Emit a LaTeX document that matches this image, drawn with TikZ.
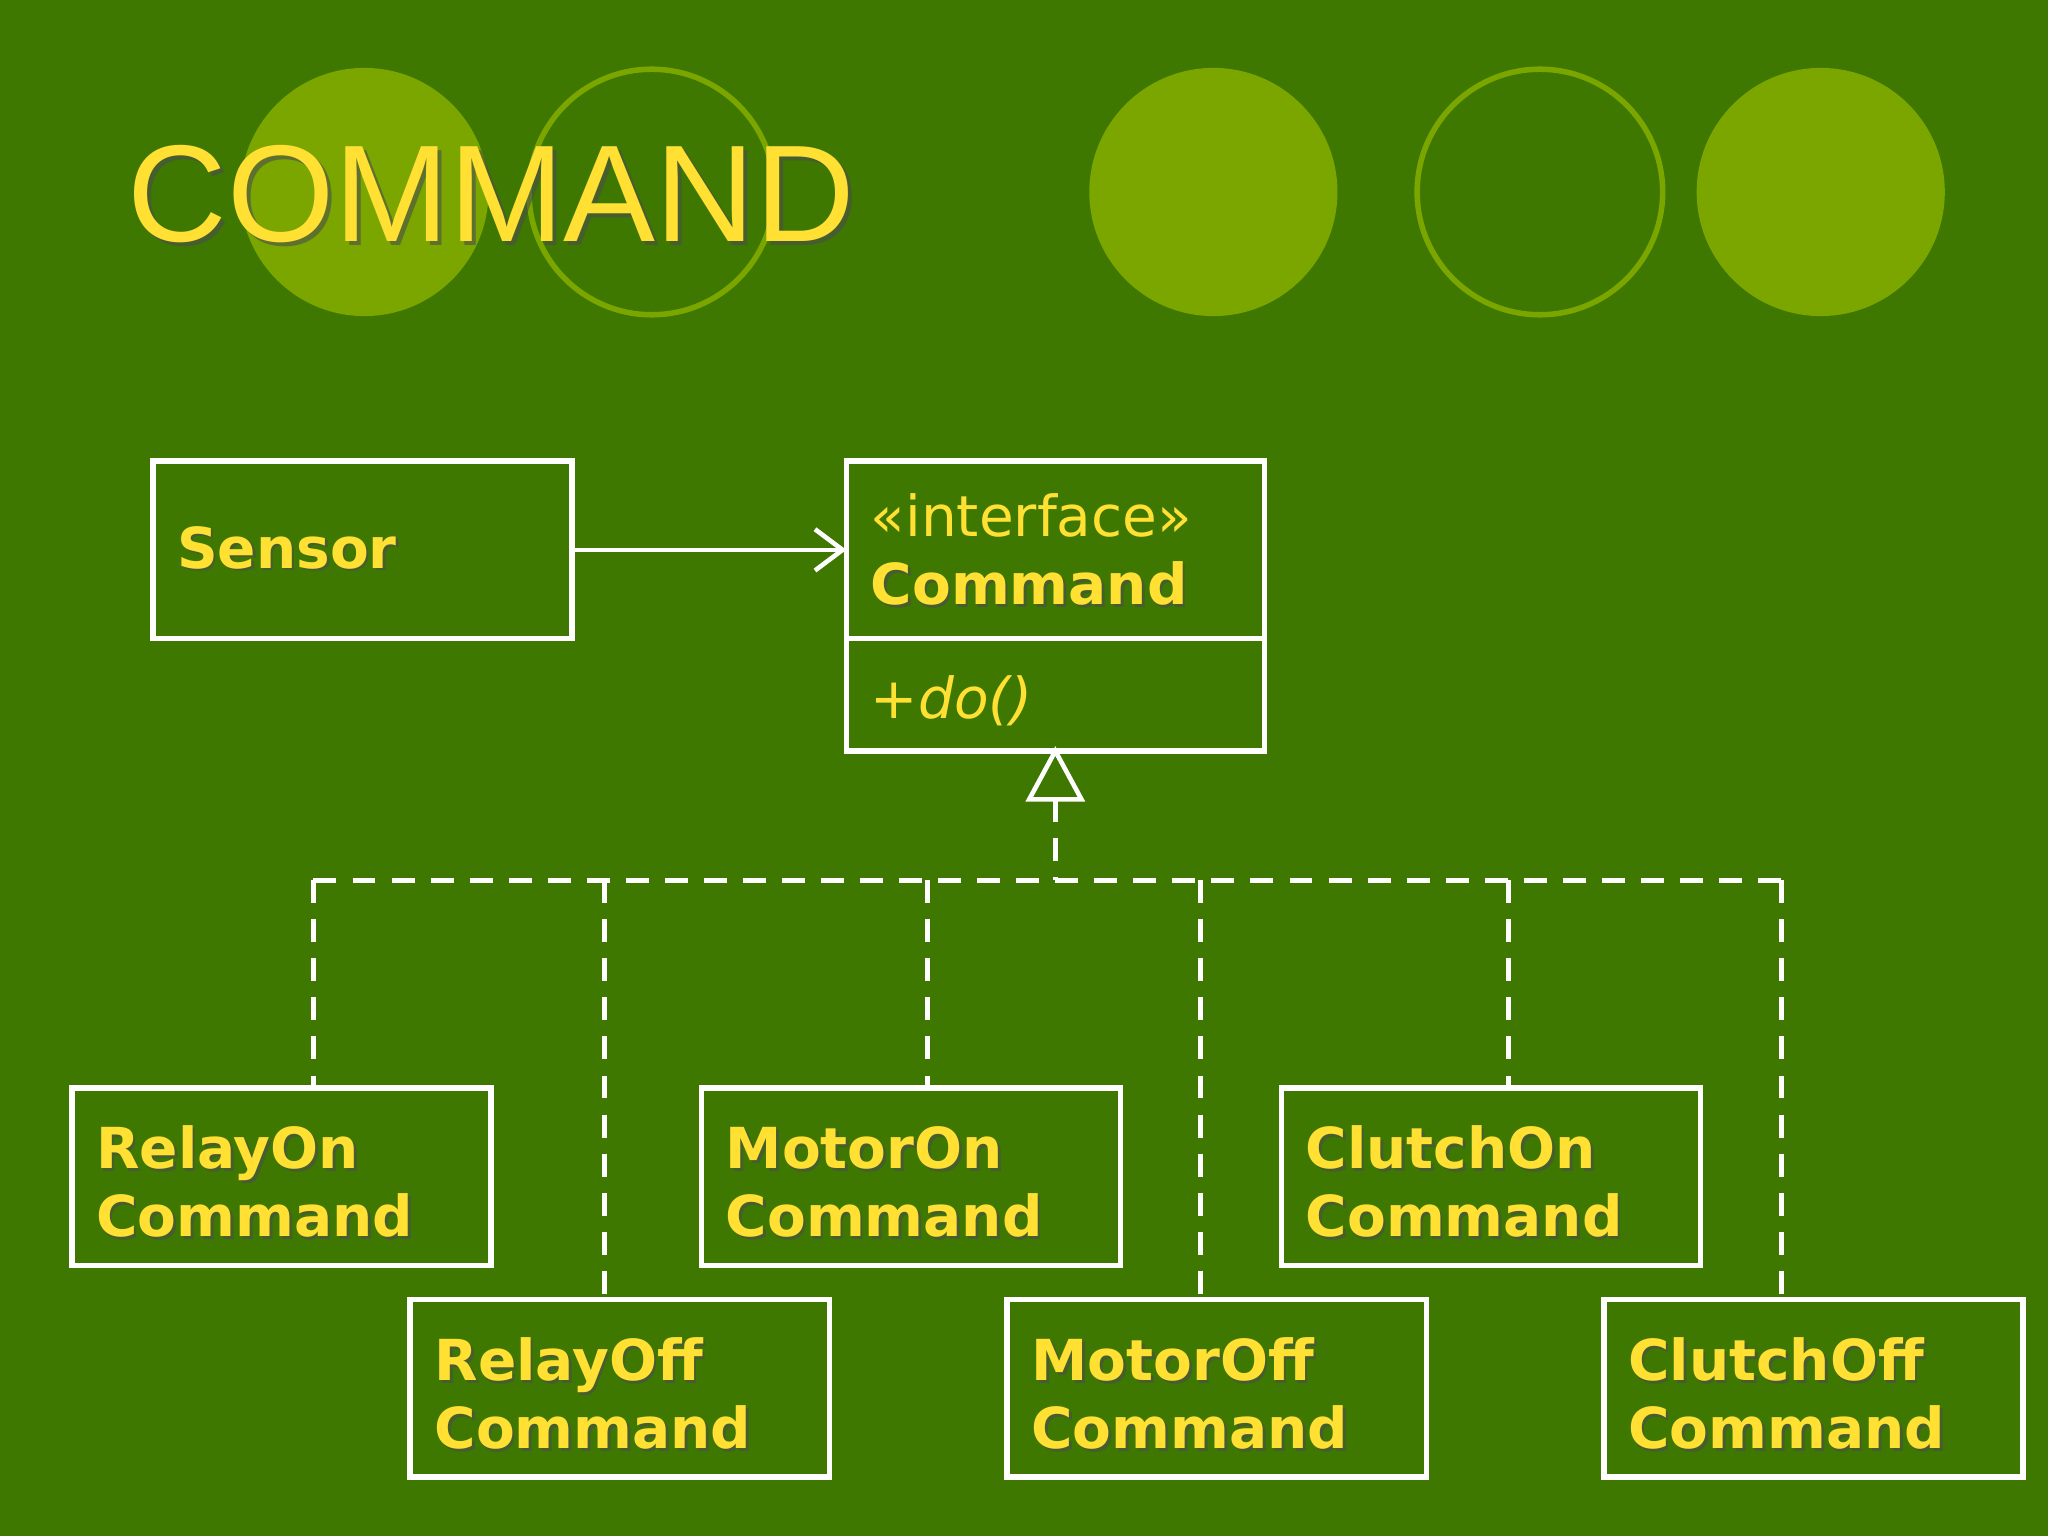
\documentclass[tikz,border=0pt]{standalone}
\usepackage{fontspec}
\setmainfont{DejaVu Sans}
\newfontfamily\titlefont{Liberation Sans}
\usetikzlibrary{arrows.meta}
\definecolor{bg}{HTML}{3F7800}
\definecolor{lg}{HTML}{7BA600}
\definecolor{yl}{HTML}{FFE033}
\begin{document}
\begin{tikzpicture}[x=0.01cm,y=-0.01cm,
  box/.style={draw=white,line width=1.2pt,anchor=north west,inner sep=0pt},
  lbl/.style={anchor=base west,inner sep=0pt,text=yl,font=\fontsize{12.3}{14}\selectfont\bfseries},
  shd/.style={anchor=base west,inner sep=0pt,text=black!70,opacity=0.6,font=\fontsize{12.3}{14}\selectfont\bfseries},
  dsh/.style={draw=white,line width=1pt,dash pattern=on 5pt off 3.5pt}]
\fill[bg] (0,0) rectangle (1568,1176);
\useasboundingbox (0,0) rectangle (1568,1176);
\fill[lg] (279,147) circle (95);
\draw[lg,line width=1.2pt] (499,147) circle (94);
\fill[lg] (929,147) circle (95);
\draw[lg,line width=1.2pt] (1179,147) circle (94);
\fill[lg] (1394,147) circle (95);
\node[anchor=base west,inner sep=0pt,text=black!70,opacity=0.6,font=\titlefont\fontsize{30}{32}\selectfont] at (100,188) {COMMAND};
\node (title)[anchor=base west,inner sep=0pt,text=yl,font=\titlefont\fontsize{30}{32}\selectfont] at (97,185) {COMMAND};
% boxes
\newcommand{\ubox}[5]{%
 \draw[white,line width=1.2pt] (#1,#2) rectangle ++(321,136);
 \coordinate (#3) at (#1+160,#2);
 \node[shd] at (#1+20,#2+64) {#4};
 \node[lbl] at (#1+18,#2+62) {#4};
 \node[shd] at (#1+20,#2+116) {#5};
 \node[lbl] at (#1+18,#2+114) {#5};}
\draw[white,line width=1.2pt] (117,353) rectangle (438,489);
\coordinate (sensor) at (438,421);
\node[shd] at (137,437) {Sensor};
\node[lbl] at (135,435) {Sensor};
\draw[white,line width=1.2pt] (648,353) rectangle (968,575);
\draw[white,line width=1.2pt] (648,489) -- (968,489);
\coordinate (cmd) at (648,421);
\coordinate (cmdb) at (808,575);
\node[anchor=base west,inner sep=0pt,text=yl,font=\fontsize{12.3}{14}\selectfont] at (666,411) {«interface»};
\node[shd] at (668,465) {Command};
\node[lbl] at (666,463) {Command};
\node[anchor=base west,inner sep=0pt,text=yl,font=\fontsize{12.3}{14}\selectfont\itshape] at (666,550) {+do()};
\draw[white,line width=1pt,-{Straight Barb[length=6pt,width=9pt]}] (sensor) -- (cmd);
\coordinate (tb) at (808,612);
\draw[white,line width=1pt,fill=bg] (cmdb) -- (788,612) -- (828,612) -- cycle;
\ubox{55}{833}{ron}{RelayOn}{Command}
\ubox{314}{995}{roff}{RelayOff}{Command}
\ubox{537}{833}{mon}{MotorOn}{Command}
\ubox{771}{995}{moff}{MotorOff}{Command}
\ubox{981}{833}{con}{ClutchOn}{Command}
\ubox{1228}{995}{coff}{ClutchOff}{Command}
\draw[dsh] (tb) -- (808,674);
\draw[dsh] (240,674) -- (1364,674);
\draw[dsh] (240,674) -- (240,833);
\draw[dsh] (463,674) -- (463,995);
\draw[dsh] (710,674) -- (710,833);
\draw[dsh] (919,674) -- (919,995);
\draw[dsh] (1155,674) -- (1155,833);
\draw[dsh] (1364,674) -- (1364,995);
\end{tikzpicture}
\end{document}
